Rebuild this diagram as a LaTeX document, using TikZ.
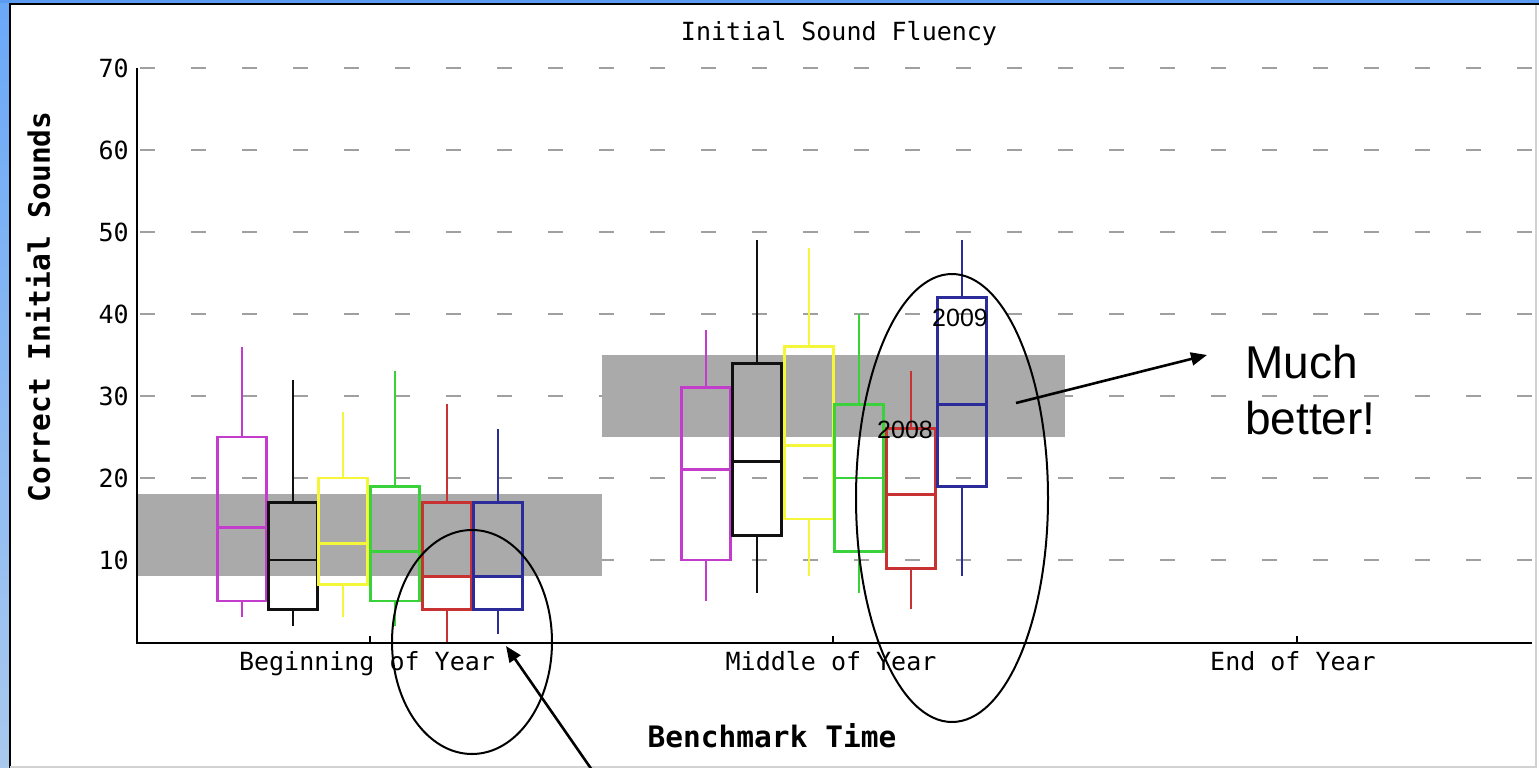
\documentclass[tikz,border=0pt]{standalone}
\usepackage{fontspec}
\setmainfont{Liberation Sans}
\newfontfamily\chartfont{DejaVu Sans Mono}
\usetikzlibrary{arrows.meta}
\definecolor{frameblue}{HTML}{5B9BF0}
\definecolor{frametop}{HTML}{6AA8F8}
\definecolor{framebot}{HTML}{A9C9EE}
\definecolor{bandgray}{HTML}{AAAAAA}
\definecolor{gridgray}{HTML}{A0A0A0}
\definecolor{cmag}{HTML}{C43CCC}
\definecolor{cblk}{HTML}{101010}
\definecolor{cyel}{HTML}{F5F53A}
\definecolor{cgrn}{HTML}{3AD23A}
\definecolor{cred}{HTML}{C83232}
\definecolor{cblu}{HTML}{2B2B9A}
\tikzset{
  gridline/.style={draw=gridgray,line width=1.8pt,dash pattern=on 15pt off 36pt},
  axisline/.style={draw=black,line width=2.2pt},
  whisk/.style={line width=2.4pt},
  bxstyle/.style={line width=2.8pt},
  ticklab/.style={font=\chartfont\fontsize{25}{30}\selectfont,inner sep=0pt},
  axtitle/.style={font=\chartfont\bfseries\fontsize{29.5}{34}\selectfont,inner sep=0pt},
  yearlab/.style={font=\fontsize{25}{30}\selectfont,inner sep=0pt},
  note/.style={font=\fontsize{46}{56}\selectfont,inner sep=0pt,align=left},
  circ/.style={draw=black,line width=2pt},
  pointer/.style={draw=black,line width=2.6pt,-{Triangle[length=16pt,width=13pt]}}
}
\newcommand\bxplot[7]{%
  \draw[whisk,#2] (#1,#3) -- (#1,#4) (#1,#6) -- (#1,#7);
  \draw[bxstyle,#2] (#1-24.5,#4) rectangle (#1+24.5,#6) (#1-24.5,#5) -- (#1+24.5,#5);
}
\begin{document}
\begin{tikzpicture}[x=1pt,y=-1pt]
\useasboundingbox (0,0) rectangle (1539,768);
% frame
\fill[white] (0,0) rectangle (1539,768);
\shade[top color=frametop,bottom color=framebot] (0,0) rectangle (8.5,768);
\fill[frameblue] (0,0) rectangle (1539,3.5);
\draw[black,line width=2pt] (9.5,768) -- (9.5,4.5) -- (1539,4.5);
\draw[gray!35,line width=1.2pt] (1536,5) -- (1536,767) -- (10,767);
% data scope: x in px, y in values
\begin{scope}[shift={(0,642)},y=8.2pt]
  \foreach \v in {10,20,...,70} {\draw[gridline] (140,\v) -- (1535,\v);}
  \fill[bandgray] (137,8) rectangle (602,18);
  \fill[bandgray] (602,25) rectangle (1065,35);
  \foreach \v in {10,20,...,70} {\node[ticklab,anchor=east] (y\v) at (129,\v) {\v};}
  % beginning of year
  \bxplot{242}{cmag}{3}{5}{14}{25}{36}
  \bxplot{293}{cblk}{2}{4}{10}{17}{32}
  \bxplot{343}{cyel}{3}{7}{12}{20}{28}
  \bxplot{395}{cgrn}{2}{5}{11}{19}{33}
  \bxplot{447}{cred}{0}{4}{8}{17}{29}
  \bxplot{498}{cblu}{1}{4}{8}{17}{26}
  % middle of year
  \bxplot{706}{cmag}{5}{10}{21}{31}{38}
  \bxplot{757}{cblk}{6}{13}{22}{34}{49}
  \bxplot{809}{cyel}{8}{15}{24}{36}{48}
  \bxplot{859}{cgrn}{6}{11}{20}{29}{40}
  \bxplot{911}{cred}{4}{9}{18}{26}{33}
  \bxplot{962}{cblu}{8}{19}{29}{42}{49}
\end{scope}
% axes
\draw[axisline] (137,68) -- (137,643) -- (1532,643);
\foreach \t in {370,833,1297} {\draw[axisline] (\t,643) -- (\t,636);}
\node[ticklab,anchor=base] (title) at (839,41) {Initial Sound Fluency};
\node[ticklab,anchor=base] (boy) at (367,670) {Beginning of Year};
\node[ticklab,anchor=base] (moy) at (831,670) {Middle of Year};
\node[ticklab,anchor=base] (eoy) at (1293,670) {End of Year};
\node[axtitle,anchor=base] (xt) at (772,747) {Benchmark Time};
\node[axtitle,rotate=90] (yt) at (38,307) {Correct Initial Sounds};
% annotations
\draw[circ] (472,642) ellipse [x radius=80,y radius=112];
\draw[circ] (952,498) ellipse [x radius=96,y radius=224];
\node[yearlab] (y2009) at (960,318) {2009};
\node[yearlab] (y2008) at (905,430) {2008};
\node[note,anchor=north west] (much) at (1245,345) {Much\\better!};
\coordinate (mstart) at (1016,403);
\coordinate (mtip) at (1207,355);
\draw[pointer] (mstart) -- (mtip);
\coordinate (bstart) at (592,770);
\coordinate (btip) at (506,646);
\draw[pointer] (bstart) -- (btip);
\end{tikzpicture}
\end{document}
